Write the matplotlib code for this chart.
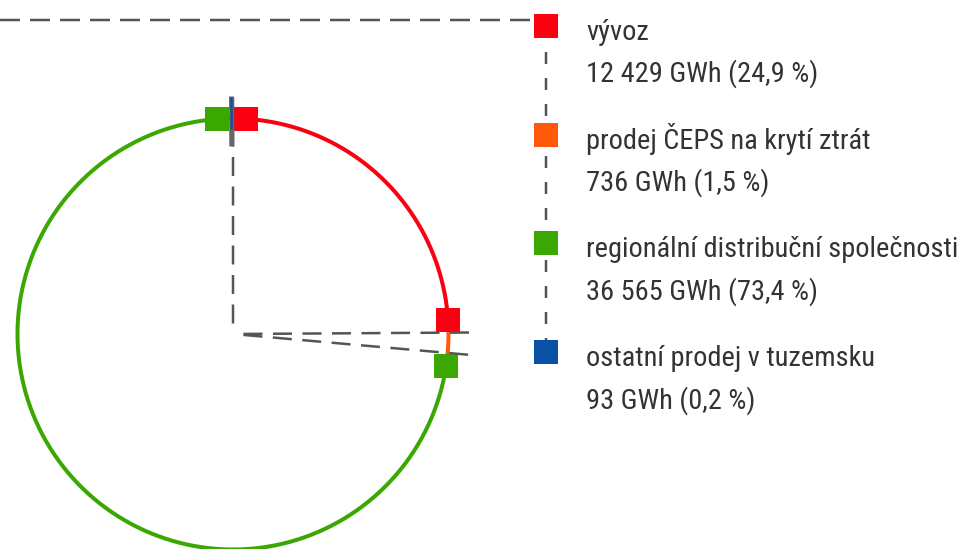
import numpy as np
import matplotlib
matplotlib.use("Agg")
import matplotlib.pyplot as plt
from matplotlib import font_manager

categories = ["vývoz", "prodej ČEPS na krytí ztrát",
              "regionální distribuční společnosti", "ostatní prodej v tuzemsku"]
values_gwh = [12429, 736, 36565, 93]
shares_pct = [24.9, 1.5, 73.4, 0.2]
colors = ["#fa0010", "#ff5a0a", "#3aa800", "#0a50a5"]

names = {f.name for f in font_manager.fontManager.ttflist}
if "Roboto Condensed" in names:
    FONT = dict(family="Roboto Condensed")
elif "Liberation Sans Narrow" in names:
    FONT = dict(family="Liberation Sans Narrow")
else:
    FONT = dict(family="DejaVu Sans", stretch="condensed")

plt.rcParams["lines.scale_dashes"] = False
W, H = 963, 549
fig = plt.figure(figsize=(W / 100, H / 100), dpi=100)
ax = fig.add_axes([0, 0, 1, 1])
ax.set_xlim(0, W)
ax.set_ylim(H, 0)
ax.axis("off")

PX = 0.72  # points per pixel
cx, cy, r = 233, 334, 215.5
dash = (0, (20 * PX, 10 * PX))
radial_dash = (19 * PX, (19 * PX, 10.5 * PX))
gray = "#555555"
sq = 24 * PX


def pt(theta_deg, rad):
    t = np.radians(theta_deg)
    return cx + rad * np.sin(t), cy - rad * np.cos(t)


shares = np.array(shares_pct)
bounds = np.concatenate([[0], np.cumsum(shares)]) / shares.sum() * 360.0

# radial dashed lines at segment starts (last tiny segment shares the top line)
for b in bounds[:-2]:
    x, y = pt(b, r * 1.1)
    ax.plot([cx + 1e-9, x], [cy, y], color=gray, lw=2.5 * PX,
            linestyle=radial_dash, dash_capstyle="butt", zorder=4.5)

# ring arcs
for i, c in enumerate(colors):
    th = np.linspace(bounds[i], bounds[i + 1], 400)
    x, y = pt(th, r)
    ax.plot(x, y, color=c, lw=4 * PX, solid_capstyle="butt", zorder=2)

# end markers
off = 13.0 / r * 180 / np.pi
for i, c in enumerate(colors):
    if shares[i] >= 10:
        for th in (bounds[i] + off, bounds[i + 1] - off):
            x, y = pt(th, r)
            ax.plot([x], [y], marker="s", ms=sq, mew=0, color=c, zorder=4)
    elif shares[i] < 1:
        mid = (bounds[i] + bounds[i + 1]) / 2
        g0, g1 = pt(mid, r - 28), pt(mid, r + 22)
        ax.plot([g0[0], g1[0]], [g0[1], g1[1]], color="#666666", lw=5 * PX,
                zorder=4.6, solid_capstyle="butt")
        x0, y0 = pt(mid, r - 11)
        x1, y1 = pt(mid, r + 21)
        ax.plot([x0, x1], [y0, y1], color=c, lw=2.2 * PX, zorder=5,
                solid_capstyle="butt")

# legend
lx, ly0, ldy = 546, 26, 108.7
ys = [ly0 + i * ldy for i in range(len(categories))]
ax.plot([0, lx - 12], [20, 20], color=gray, lw=2.5 * PX, linestyle=dash,
        dash_capstyle="butt", zorder=1)
ax.plot([lx, lx], [ys[0], ys[-1]], color=gray, lw=2.5 * PX,
        linestyle=(0, (12 * PX, 14 * PX)), dash_capstyle="butt", zorder=1)
for i, (cat, v, s, c) in enumerate(zip(categories, values_gwh, shares_pct, colors)):
    y = ys[i]
    ax.plot([lx], [y], marker="s", ms=sq, mew=0, color=c, zorder=4)
    vtxt = f"{v:,}".replace(",", " ")
    stxt = f"{s:.1f}".replace(".", ",")
    ax.text(586, y + 14, cat, fontsize=20.4, color="#333333",
            va="baseline", ha="left", **FONT)
    ax.text(586, y + 56, f"{vtxt} GWh ({stxt} %)", fontsize=20.4,
            color="#333333", va="baseline", ha="left", **FONT)

fig.savefig("out.png", dpi=100)
